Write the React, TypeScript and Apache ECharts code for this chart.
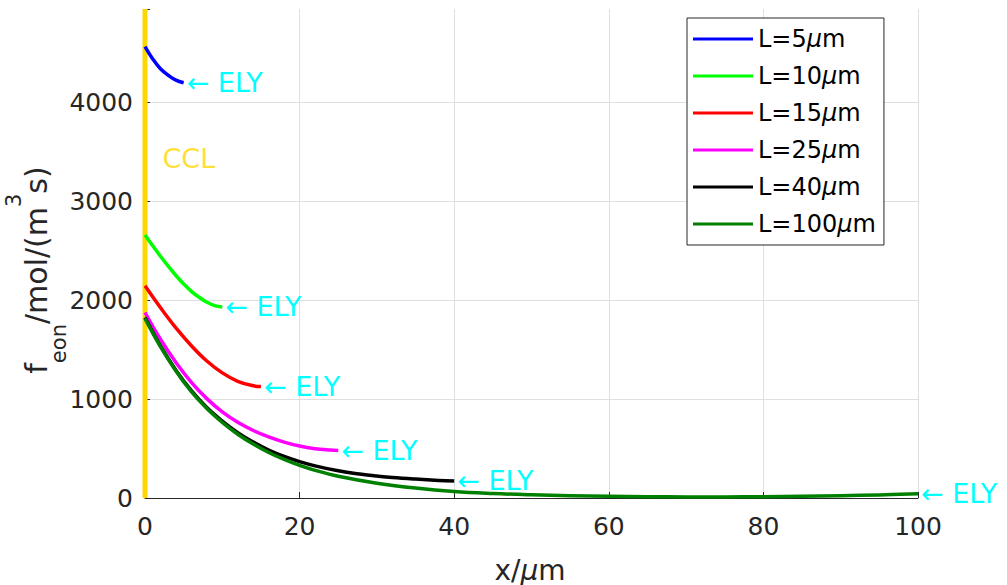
import React, { useEffect, useRef } from "react";
import * as echarts from "echarts";

// ---------- data ----------
const X_MIN = 0;
const X_MAX = 100;
const X_INTERVAL = 20;
const Y_MIN = 0;
const Y_MAX = 4945;
const Y_INTERVAL = 1000;

const SERIES_NAMES = ["L=5μm", "L=10μm", "L=15μm", "L=25μm", "L=40μm", "L=100μm"];
const SERIES_COLORS = ["#0000FF", "#00FF00", "#FF0000", "#FF00FF", "#000000", "#008000"];

const L5_X = [0, 1, 2, 3, 4, 5];
const L5_Y = [4565, 4440, 4340, 4275, 4225, 4200];

const L10_X = [0, 1, 2, 3, 4, 5, 6, 7, 8, 9, 10];
const L10_Y = [2660, 2550, 2445, 2345, 2250, 2165, 2090, 2030, 1980, 1945, 1932];

const L15_X = [0, 2, 4, 6, 8, 10, 12, 14, 15];
const L15_Y = [2146, 1925, 1720, 1540, 1385, 1265, 1180, 1135, 1127];

const L25_X = [0, 2, 4, 6, 8, 10, 12, 14, 16, 18, 20, 22, 24, 25];
const L25_Y = [1876, 1605, 1370, 1170, 1005, 870, 765, 683, 618, 565, 525, 499, 485, 481];

const L40_X = [0, 2, 4, 6, 8, 10, 12, 14, 16, 18, 20, 22, 25, 28, 30, 32, 35, 38, 40];
const L40_Y = [1825, 1538, 1293, 1085, 915, 778, 660, 565, 485, 420, 368, 325, 275, 240, 222, 207, 191, 178, 172];

const L100_X = [0, 2, 4, 6, 8, 10, 12, 14, 16, 18, 20, 22, 25, 30, 35, 40, 45, 50, 55, 60, 65, 70, 75, 80, 85, 90, 95, 100];
const L100_Y = [1816, 1530, 1285, 1075, 905, 765, 645, 545, 460, 390, 330, 280, 220, 150, 100, 65, 45, 32, 23, 17, 13, 11, 11, 13, 17, 23, 31, 42];

const CURVES_X = [L5_X, L10_X, L15_X, L25_X, L40_X, L100_X];
const CURVES_Y = [L5_Y, L10_Y, L15_Y, L25_Y, L40_Y, L100_Y];

const CCL_LINE_X = [0, 0];
const CCL_LINE_Y = [Y_MIN, Y_MAX];
const CCL_LABEL_POS = [2.2, 3430];
const END_LABEL_TEXT = "← ELY";
const CCL_TEXT = "CCL";

// ---------- styles ----------
const FONT = '"DejaVu Sans", "Liberation Sans", sans-serif';
const AXIS_COLOR = "#262626";
const GRID_COLOR = "#dfdfdf";
const CCL_COLOR = "#FFD700";
const ELY_COLOR = "#00FFFF";

export default function App() {
  const ref = useRef<HTMLDivElement>(null);

  useEffect(() => {
    document.body.style.margin = "0";
    const chart = echarts.init(ref.current as HTMLDivElement, null, { renderer: "svg" });

    const curveSeries = SERIES_NAMES.map((name, i) => ({
      type: "line",
      name,
      data: CURVES_X[i].map((x, j) => [x, CURVES_Y[i][j]]),
      symbol: "none",
      showSymbol: false,
      smooth: 0.4,
      color: SERIES_COLORS[i],
      itemStyle: { color: SERIES_COLORS[i] },
      lineStyle: { color: SERIES_COLORS[i], width: 3.5, cap: "butt", join: "round" },
      z: 3,
      silent: true,
      endLabel: {
        show: true,
        formatter: END_LABEL_TEXT,
        color: ELY_COLOR,
        fontFamily: FONT,
        fontSize: 27,
        distance: 3,
      },
    }));

    const option: any = {
      animation: false,
      grid: { left: 145, right: 89, top: 9, bottom: 87, containLabel: false },
      xAxis: {
        type: "value",
        min: X_MIN,
        max: X_MAX,
        interval: X_INTERVAL,
        axisLine: { show: true, onZero: false, lineStyle: { color: AXIS_COLOR, width: 1 } },
        axisTick: { show: true, inside: true, length: 6, lineStyle: { color: AXIS_COLOR } },
        axisLabel: { fontFamily: FONT, fontSize: 25, color: AXIS_COLOR, margin: 16 },
        splitLine: { show: true, lineStyle: { color: GRID_COLOR, width: 1 } },
      },
      yAxis: {
        type: "value",
        min: Y_MIN,
        max: Y_MAX,
        interval: Y_INTERVAL,
        axisLine: { show: false },
        axisTick: { show: true, inside: true, length: 5, lineStyle: { color: AXIS_COLOR } },
        axisLabel: {
          fontFamily: FONT,
          fontSize: 25,
          color: AXIS_COLOR,
          margin: 12,
          formatter: (v: number) => (v % Y_INTERVAL === 0 ? String(v) : ""),
        },
        splitLine: { show: true, showMaxLine: false, lineStyle: { color: GRID_COLOR, width: 1 } },
      },
      legend: {
        data: SERIES_NAMES,
        orient: "vertical",
        left: 687,
        top: 18,
        padding: [8, 8, 8, 6],
        itemGap: 11,
        itemWidth: 60,
        itemHeight: 3,
        icon: "rect",
        selectedMode: false,
        borderColor: AXIS_COLOR,
        borderWidth: 1,
        borderRadius: 0,
        backgroundColor: "#ffffff",
        formatter: (name: string) => name.replace("μ", "{i|μ}"),
        textStyle: {
          fontFamily: FONT,
          fontSize: 24,
          color: "#000000",
          lineHeight: 26,
          rich: {
            i: { fontFamily: FONT, fontSize: 24, fontStyle: "italic", color: "#000000", lineHeight: 26 },
          },
        },
      },
      graphic: [
        {
          type: "text",
          x: 36,
          y: 270,
          rotation: Math.PI / 2,
          silent: true,
          style: {
            text: "{n|f}{sub|eon}{n|/mol/(m}{sup|3}{n|s)}",
            align: "center",
            verticalAlign: "middle",
            fill: AXIS_COLOR,
            rich: {
              n: { fontFamily: FONT, fontSize: 30, fill: AXIS_COLOR, lineHeight: 66, verticalAlign: "middle" },
              sub: { fontFamily: FONT, fontSize: 21, fill: AXIS_COLOR, lineHeight: 40, verticalAlign: "bottom" },
              sup: { fontFamily: FONT, fontSize: 21, fill: AXIS_COLOR, lineHeight: 24, verticalAlign: "top" },
            },
          },
        },
        {
          type: "text",
          x: 530,
          y: 570,
          silent: true,
          style: {
            text: "{n|x/}{i|μ}{n|m}",
            align: "center",
            verticalAlign: "middle",
            fill: AXIS_COLOR,
            rich: {
              n: { fontFamily: FONT, fontSize: 28, fill: AXIS_COLOR },
              i: { fontFamily: FONT, fontSize: 28, fill: AXIS_COLOR, fontStyle: "italic" },
            },
          },
        },
      ],
      series: [
        {
          type: "line",
          name: "CCL",
          data: CCL_LINE_X.map((x, j) => [x, CCL_LINE_Y[j]]),
          symbol: "none",
          showSymbol: false,
          lineStyle: { color: CCL_COLOR, width: 5, cap: "butt" },
          itemStyle: { color: CCL_COLOR },
          z: 2,
          silent: true,
        },
        {
          type: "scatter",
          name: "CCL label",
          data: [CCL_LABEL_POS],
          symbolSize: 1,
          itemStyle: { color: "rgba(0,0,0,0)" },
          silent: true,
          z: 4,
          label: {
            show: true,
            formatter: CCL_TEXT,
            position: "right",
            distance: 0,
            color: CCL_COLOR,
            fontFamily: FONT,
            fontSize: 27,
          },
        },
        ...curveSeries,
      ],
    };

    chart.setOption(option);
    return () => chart.dispose();
  }, []);

  return <div ref={ref} style={{ width: 1007, height: 585 }} />;
}
